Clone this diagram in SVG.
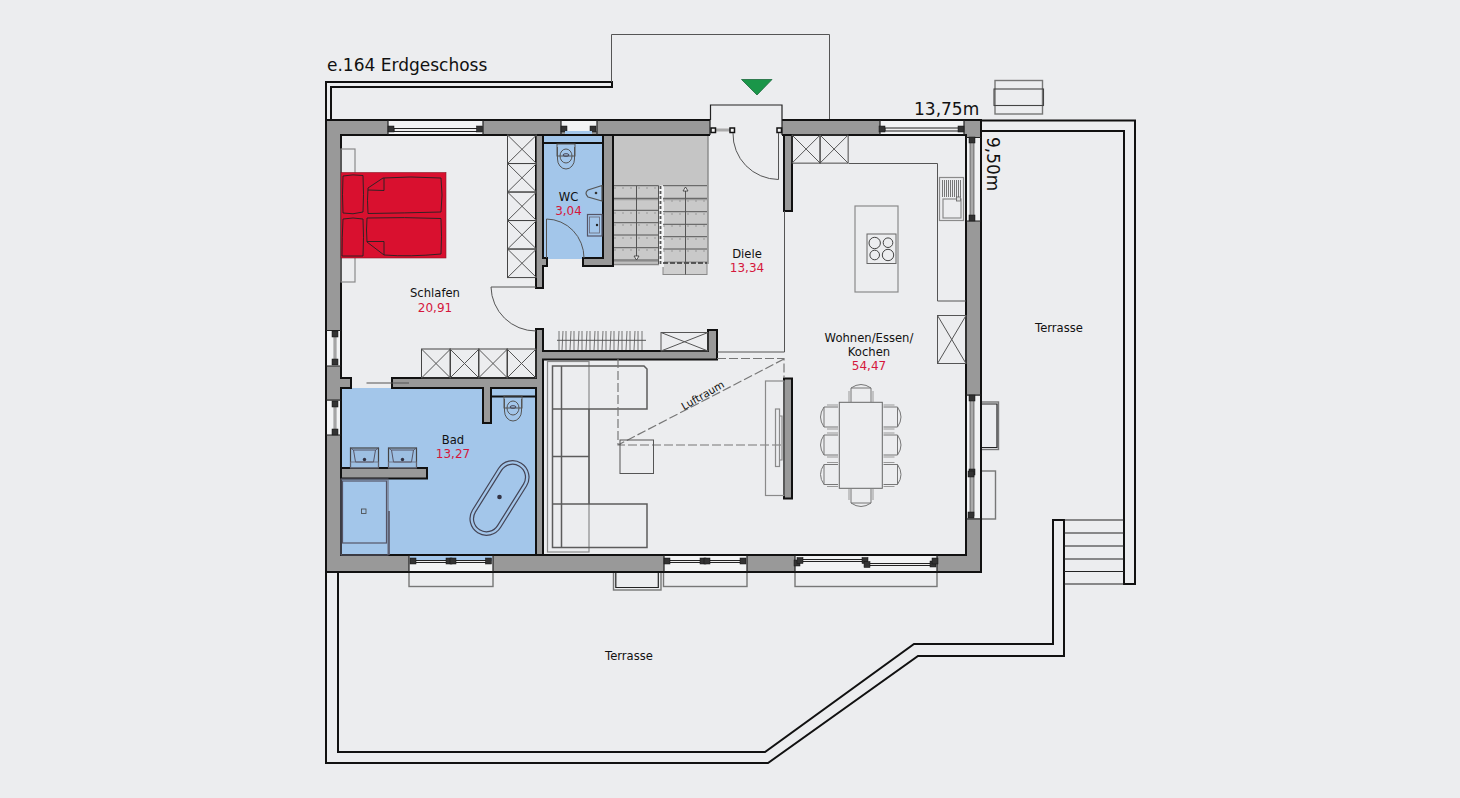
<svg xmlns="http://www.w3.org/2000/svg" xmlns:xlink="http://www.w3.org/1999/xlink" width="1460" height="798" viewBox="0 0 1460 798">
<style>
text{font-family:"DejaVu Sans","Liberation Sans",sans-serif;font-size:11.6px;fill:#111;text-anchor:middle}
.big{font-size:17px;text-anchor:start}
.area{fill:#d5173c;font-size:12px}
.air{font-size:10.5px}
.wall{fill:#999;stroke:#111;stroke-width:2}
.blk{fill:none;stroke:#111;stroke-width:2}
.blk1{fill:none;stroke:#222;stroke-width:1.2}
.thin{fill:none;stroke:#555;stroke-width:1}
.gr{fill:none;stroke:#8a8a8a;stroke-width:1.2}
.gr2{fill:none;stroke:#777;stroke-width:1.4}
.dash{fill:none;stroke:#777;stroke-width:1.2;stroke-dasharray:9 3}
.open{fill:#f2f3f4;stroke:none}
.glass{stroke:#222;stroke-width:1;fill:#eee}
.jamb{fill:#333;stroke:#111;stroke-width:.5}
.fur{fill:none;stroke:#5c5c5c;stroke-width:1.5}
.blue{fill:#a3c6ea}
.tread{fill:none;stroke:#555;stroke-width:1}
.dots{fill:none;stroke:#999;stroke-width:1;stroke-dasharray:2 6}
.band{fill:none;stroke:#a0a0a0;stroke-width:1.4}
</style>
<defs>
<g id="x"><rect width="29" height="29" fill="none" stroke="#444" stroke-width="1"/><path d="M0 0L29 29M29 0L0 29" fill="none" stroke="#555" stroke-width="1"/></g>
<rect id="j" x="-3" y="-3" width="6" height="6" class="jamb"/>
<g id="chair"><path d="M0 -10H-14V10H0M-14 -10Q-21 0 -14 10" fill="none" stroke="#777" stroke-width="1"/><path d="M0 -12H-11M0 12H-11" stroke="#999" stroke-width="1"/></g>
<g id="sink"><rect x="0" y="0" width="28" height="20" fill="#9dbfe2" stroke="#444" stroke-width="1.2"/><path d="M3 2H25L23 14H5Z M0 0L3 2M28 0L25 2" fill="none" stroke="#556" stroke-width="1"/><circle cx="14" cy="11.500" r="1.700" fill="#334"/><rect x="0" y="14" width="28" height="6" fill="none" stroke="#667" stroke-width=".8"/></g>
<g id="wc"><rect x="-9" y="-13" width="18" height="12" fill="none" stroke="#555" stroke-width="1"/><path d="M-8.500 -10V2A8.500 10 0 0 0 8.500 2V-10" fill="none" stroke="#555" stroke-width="1"/><ellipse cx="0" cy="-1" rx="6" ry="7" fill="none" stroke="#555" stroke-width="1"/><ellipse cx="0" cy="-2" rx="3" ry="1.300" fill="none" stroke="#445" stroke-width="1"/></g>
</defs>
<rect width="1460" height="798" fill="#ecedef"/>

<g id="terraces">
<path class="blk" d="M326 120V82H612V87H331V120"/>
<path class="thin" d="M611.500 82V34.500H829.500V120"/>
<path class="blk" d="M981 120.500H1135V584H1124V131H981"/>
<path class="blk" d="M326 572V763H768L918 656H1064V520H1053V644H914L765 752H338V572"/>
<path class="blk1" d="M1064 520H1124M1064 533H1124M1064 546H1124M1064 559H1124M1064 571.500H1124"/>
<path class="blk1" d="M1064 584H1124"/>
<rect x="995" y="80.500" width="47.500" height="33.500" class="gr2"/>
<rect x="994" y="89" width="49.500" height="16.500" fill="none" stroke="#444" stroke-width="1.100"/>
<rect x="981" y="402" width="17.500" height="47.500" class="gr2"/>
<path class="blk1" d="M981 404H997V447.500H981"/>
<rect x="981" y="471" width="14.500" height="48" class="gr2"/>
<rect x="409" y="572" width="84" height="14.500" class="gr2"/>
<rect x="613.500" y="572" width="47.500" height="18" class="gr2"/>
<path class="blk1" d="M615.800 572V587.500H658.300V572"/>
<rect x="663.500" y="572" width="83.500" height="14.500" class="gr2"/>
<rect x="795" y="572" width="142" height="14.500" class="gr2"/>
</g>

<g id="rooms">
<rect id="bad-floor" class="blue" x="341" y="388" width="195" height="167"/>
<rect id="wc-floor" class="blue" x="543" y="131" width="60" height="128"/>
</g>

<g id="walls">
<path class="wall" fill-rule="evenodd" d="M326 120H981V572H326ZM341 135V378H351V388H341V555H966V135Z"/>
<path class="wall" d="M536 135H543V258H547V266H543V288H536Z"/>
<path class="wall" d="M603 135H613V266H583V258H603Z"/>
<path class="wall" d="M392 378H536V329H543V351H708V330H717V359.500H543V555H536V388H491V423H483V388H392Z"/>
<path class="wall" d="M784 135H792V211H784Z"/>
<rect class="wall" x="784" y="378.500" width="8" height="120"/>
<path class="wall" d="M341 468H427V478.500H341Z"/>
</g>

<g id="windows">
<rect class="open" x="388" y="121" width="95" height="13"/><path class="blk1" d="M388 120V135M483 120V135"/><path class="glass" d="M394 128.500H478V131.500H394Z"/><use xlink:href="#j" href="#j" x="391" y="129"/><use xlink:href="#j" href="#j" x="479.500" y="129"/>
<rect class="open" x="561" y="121" width="36" height="10"/><path class="blk1" d="M561 120V135M597 120V135"/><use xlink:href="#j" href="#j" x="564" y="129"/><use xlink:href="#j" href="#j" x="593" y="129"/>
<rect class="blue" x="565" y="131" width="27" height="3"/>
<rect class="open" x="880" y="121" width="84" height="13"/><path class="blk1" d="M880 120V135M964 120V135"/><path class="glass" d="M885 128H960V131H885Z"/><use xlink:href="#j" href="#j" x="882" y="129"/><use xlink:href="#j" href="#j" x="961" y="129"/>
<rect class="open" x="967" y="138" width="13" height="83"/><path class="blk1" d="M966 137.500H981M966 221H981"/><rect x="970" y="142" width="4" height="74" fill="#aaa" stroke="#333" stroke-width=".6"/><use xlink:href="#j" href="#j" x="972" y="140"/><use xlink:href="#j" href="#j" x="972" y="218"/>
<rect class="open" x="967" y="396" width="13" height="122"/><path class="blk1" d="M966 395H981M966 519H981"/><rect x="970" y="399" width="4" height="117" fill="#aaa" stroke="#333" stroke-width=".6"/><use xlink:href="#j" href="#j" x="972" y="398"/><use xlink:href="#j" href="#j" x="972" y="472"/><use xlink:href="#j" href="#j" x="971" y="474"/><use xlink:href="#j" href="#j" x="971" y="515"/>
<rect class="open" x="409" y="556" width="84" height="15"/><rect class="blue" x="410" y="556" width="82" height="5"/><path class="blk1" d="M409 555V572M493 555V572"/><path class="glass" d="M415 560.500H487V562.500H415Z"/><use xlink:href="#j" href="#j" x="413" y="561"/><use xlink:href="#j" href="#j" x="449" y="561"/><use xlink:href="#j" href="#j" x="453" y="561"/><use xlink:href="#j" href="#j" x="488.500" y="561"/>
<rect class="open" x="664" y="556" width="83" height="15"/><path class="blk1" d="M664 555V572M747 555V572"/><path class="glass" d="M668 560.500H744V562.500H668Z"/><use xlink:href="#j" href="#j" x="667" y="561"/><use xlink:href="#j" href="#j" x="703" y="561"/><use xlink:href="#j" href="#j" x="707" y="561"/><use xlink:href="#j" href="#j" x="743" y="561"/>
<rect class="open" x="795" y="556" width="142" height="15"/><path class="blk1" d="M795 555V572M937 555V572"/><path class="glass" d="M800 559.500H864V561.500H800ZM868 563.500H932V565.500H868Z"/><use xlink:href="#j" href="#j" x="797" y="563"/><use xlink:href="#j" href="#j" x="800" y="560.500"/><use xlink:href="#j" href="#j" x="865" y="560.500"/><use xlink:href="#j" href="#j" x="867" y="564.500"/><use xlink:href="#j" href="#j" x="933" y="564"/><use xlink:href="#j" href="#j" x="935" y="561"/>
<rect class="open" x="327" y="331" width="13" height="35"/><path class="blk1" d="M326 330.500H341M326 366H341"/><rect x="334" y="336" width="2" height="25" fill="#ccc" stroke="#333" stroke-width=".5"/><use xlink:href="#j" href="#j" x="335" y="334"/><use xlink:href="#j" href="#j" x="335" y="362"/>
<rect class="open" x="327" y="401" width="13" height="34"/><path class="blk1" d="M326 400H341M326 435H341"/><rect x="334" y="406" width="2" height="25" fill="#ccc" stroke="#333" stroke-width=".5"/><use xlink:href="#j" href="#j" x="335" y="404"/><use xlink:href="#j" href="#j" x="335" y="432"/>
</g>

<g id="entrance">
<rect x="710" y="119" width="72" height="17" fill="#ecedef"/>
<path class="blk1" d="M710.500 120V105H782V120M782 120V135M710 120V135"/>
<path d="M741.500 79.500H772L757 95Z" fill="#1a9649" stroke="#1a6a3c" stroke-width=".8"/>
<rect x="716" y="128.500" width="14" height="3" fill="#aaa"/>
<g fill="#f4f4f4" stroke="#111" stroke-width="1.500"><rect x="711" y="128" width="4.500" height="4.500"/><rect x="730" y="128" width="4.500" height="4.500"/><rect x="777" y="128" width="4.500" height="4.500"/></g>
<path class="thin" d="M778.500 133V179.500A46 46 0 0 1 733 133"/>
</g>

<g id="stairs">
<rect x="614" y="136" width="94" height="50" fill="#c5c5c5"/>
<rect x="614" y="185" width="44.500" height="79.500" fill="#c9c9c9"/>
<rect x="663" y="185" width="45" height="78" fill="#c9c9c9"/>
<rect x="663" y="262" width="44" height="12.500" fill="#cfcfcf" stroke="#888" stroke-width="1"/>
<path d="M708 136V264" stroke="#888" stroke-width="1.400"/>
<path d="M614 264.500H659" stroke="#888" stroke-width="1.500"/>
<path d="M660 185.500H664V267H660Z" fill="#f2f3f4" stroke="none"/>
<path class="band" d="M614 199.500H658M614 261.500H658M663 199.500H707"/>
<path class="tread" d="M614 185.700H658.500V264M614 198.300H658M614 210.300H658M614 222.700H658M614 235H658M614 247.700H658M614 260H658M663 185.700H707M663 198.300H707M663 211.700H707M663 224.300H707M663 236.700H707M663 249H707"/>
<path class="dots" d="M614 188H658M614 213H658M614 225H658M614 238H658M614 250H658M663 201H707M663 214H707M663 226H707M663 239H707M663 251H707"/>
<path d="M660.500 186V264" stroke="#555" stroke-width="1.800" stroke-dasharray="3 2"/>
<path d="M663 263H707" stroke="#333" stroke-width="1.500" stroke-dasharray="5 2"/>
<path class="thin" d="M636.500 186V256M685.500 190V274.500"/>
<path d="M634 256H639L636.500 260ZM683 191H688L685.500 187Z" fill="#eee" stroke="#333" stroke-width=".8"/>
</g>

<g id="schlafen">
<rect x="341" y="149" width="14" height="133" class="gr"/>
<rect x="341" y="172.500" width="105" height="85.500" fill="#d9102f" stroke="#8a1522" stroke-width=".6"/>
<path d="M343 176Q353 174 363 175.500Q364 195 363 212Q353 215 343 213Q342 195 343 176ZM343 219Q353 217 363 219Q364 237 363 256H342Q342 237 343 219Z" fill="none" stroke="#222" stroke-width=".9"/>
<path d="M368 188L383 178Q410 176 441 178Q443 195 441 212Q405 213 368 213.500Q367 200 368 188ZM368 190L384 190.500V178M367 218Q405 217 441 218.500Q442 236 441 254Q410 257 384 255L367 242Q366 230 367 218ZM367 241.500H384V255" fill="none" stroke="#222" stroke-width=".9"/>
<use xlink:href="#x" href="#x" transform="translate(507.500 135) scale(1 .985)"/>
<use xlink:href="#x" href="#x" transform="translate(507.500 163.500) scale(1 .985)"/>
<use xlink:href="#x" href="#x" transform="translate(507.500 192) scale(1 .985)"/>
<use xlink:href="#x" href="#x" transform="translate(507.500 220.500) scale(1 .985)"/>
<use xlink:href="#x" href="#x" transform="translate(507.500 249) scale(1 .985)"/>
<use xlink:href="#x" href="#x" x="421.500" y="349"/>
<use xlink:href="#x" href="#x" x="450" y="349"/>
<use xlink:href="#x" href="#x" x="478.500" y="349"/>
<use xlink:href="#x" href="#x" x="507" y="349"/>
<path class="thin" d="M536 287H491A45 45 0 0 0 536 331"/>
<path d="M366.500 383H409" stroke="#555" stroke-width="1.200"/>
<text x="435" y="297">Schlafen</text><text class="area" x="435" y="312">20,91</text>
</g>

<g id="wc-room">
<path class="blk" d="M543 143H603"/>
<use xlink:href="#wc" href="#wc" x="566" y="157"/>
<path d="M602 185.500L588 190Q584 193 588 197L602 201Z" fill="none" stroke="#555" stroke-width="1.200"/><circle cx="596" cy="193" r="1.300" fill="#333"/>
<rect x="587.500" y="214.500" width="14.500" height="21.500" fill="none" stroke="#556" stroke-width="1.200"/><rect x="589.500" y="217" width="10" height="16" fill="none" stroke="#667" stroke-width=".8"/><circle cx="597" cy="225" r="1.200" fill="#222"/>
<path class="thin" d="M546.500 258V219A38 39 0 0 1 584 258"/>
<text x="568.500" y="201">WC</text><text class="area" x="568.500" y="215">3,04</text>
</g>

<g id="bad">
<path class="blk" d="M491 396.500H536"/>
<use xlink:href="#wc" href="#wc" x="513" y="409"/>
<use xlink:href="#sink" href="#sink" x="350.500" y="448"/>
<use xlink:href="#sink" href="#sink" x="388.500" y="448"/>
<rect x="341" y="479" width="47" height="76" fill="none" stroke="#667" stroke-width="1"/>
<rect x="342.500" y="481" width="44" height="62" fill="none" stroke="#556" stroke-width="1.200"/>
<rect x="361.500" y="509" width="4.500" height="4.500" fill="none" stroke="#444" stroke-width=".8"/>
<path d="M389 511V555" stroke="#556" stroke-width="1.600"/>
<g transform="rotate(-58 499.500 498)"><rect x="458.500" y="481.500" width="82" height="33" rx="16.500" fill="none" stroke="#445" stroke-width="1.200"/><rect x="462" y="485" width="75" height="26" rx="13" fill="none" stroke="#445" stroke-width="1.200"/></g>
<circle cx="499.500" cy="497" r="2.300" fill="#334"/>
<text x="453" y="444">Bad</text><text class="area" x="453" y="458">13,27</text>
</g>

<g id="diele">
<path class="thin" d="M784.500 211V352H717"/>
<path class="thin" d="M557 340.300H646"/>
<path d="M559 331V350M562 350L563 331M566 331V350M570 350L571 331M574 331V350M578 350L579 331M582 331V350M586 350L587 331M590 331V350M594 350L595 331M598 331V350M602 350L603 331M606 331V350M610 350L611 331M614 331V350M618 350L619 331M622 331V350M626 350L627 331M630 331V350M634 350L635 331M638 331V350M642 331V350" fill="none" stroke="#555" stroke-width=".8"/>
<rect x="661" y="332.500" width="47" height="18.500" class="thin"/><path class="thin" d="M661 332.500L708 351M708 332.500L661 351"/>
<text x="747" y="258">Diele</text><text class="area" x="747" y="272">13,34</text>
</g>

<g id="wohnen">
<rect x="547.500" y="361.500" width="41.500" height="190.500" class="gr"/>
<path class="fur" d="M552.500 366H561.500V547.500H552.500ZM561.500 366H644L647 369V409H561.500ZM552.500 409H589V456.500H552.500ZM552.500 456.500H589V504H552.500ZM561.500 504H647V547.500H561.500Z"/>
<path class="dash" d="M618 359V445H784M717 358.500H784V378M784 359L618 445"/>
<rect x="620" y="440" width="33.500" height="33.500" class="thin"/>
<text class="air" transform="translate(704.500 398.500) rotate(-30)">Luftraum</text>
<rect x="765.500" y="381" width="18.500" height="114.500" class="gr"/>
<rect x="775.500" y="409" width="4" height="57.500" class="gr"/><path class="gr" d="M779.500 416H782V460H779.500"/>
<rect x="839.300" y="402.300" width="43" height="86" fill="none" stroke="#666" stroke-width="1"/>
<use xlink:href="#chair" href="#chair" x="838" y="417"/><use xlink:href="#chair" href="#chair" x="838" y="445"/><use xlink:href="#chair" href="#chair" x="838" y="474.500"/>
<use xlink:href="#chair" href="#chair" transform="translate(883.500 417) scale(-1 1)"/><use xlink:href="#chair" href="#chair" transform="translate(883.500 445) scale(-1 1)"/><use xlink:href="#chair" href="#chair" transform="translate(883.500 474.500) scale(-1 1)"/>
<use xlink:href="#chair" href="#chair" transform="translate(861 402) rotate(90)"/><use xlink:href="#chair" href="#chair" transform="translate(861 489) rotate(-90)"/>
<text x="869" y="342">Wohnen/Essen/</text><text x="869" y="356">Kochen</text><text class="area" x="869" y="370">54,47</text>
</g>

<g id="kueche">
<use xlink:href="#x" href="#x" transform="translate(792 135) scale(.97 .97)"/>
<use xlink:href="#x" href="#x" transform="translate(820 135) scale(.97 .97)"/>
<path class="thin" d="M849 163.500H937.500V301H966"/>
<rect x="855" y="206" width="43" height="86" class="gr"/>
<rect x="867" y="234" width="29" height="29.500" fill="none" stroke="#666" stroke-width="1"/>
<g fill="none" stroke="#444" stroke-width="1"><circle cx="874.700" cy="243" r="5.700"/><circle cx="888" cy="242.700" r="4.800"/><circle cx="874.700" cy="255" r="4.800"/><circle cx="888" cy="255" r="5.700"/></g>
<rect x="939.500" y="177.500" width="24" height="43" class="gr"/>
<path d="M942.500 180V197M944.500 180V197M946.500 180V197M948.500 180V197M950.500 180V197M952.500 180V197M954.500 180V197M956.500 180V197M958.500 180V197M960.500 180V197" stroke="#777" stroke-width="1"/>
<rect x="943" y="199" width="18" height="19" class="gr"/>
<rect x="956.500" y="197" width="4" height="4" fill="#ddd" stroke="#555" stroke-width=".7"/>
<rect x="937.500" y="315.500" width="28.500" height="48" class="thin"/><path class="thin" d="M937.500 315.500L966 363.500M966 315.500L937.500 363.500"/>
</g>

<g id="labels">
<text class="big" x="327" y="71">e.164 Erdgeschoss</text>
<text class="big" x="914" y="115">13,75m</text>
<text class="big" transform="translate(987 137) rotate(90)">9,50m</text>
<text x="1059" y="332">Terrasse</text>
<text x="629" y="660">Terrasse</text>
</g>
</svg>
